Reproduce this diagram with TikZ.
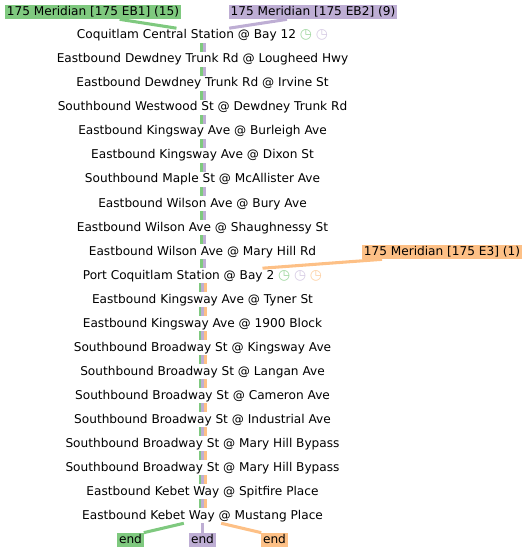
\documentclass[tikz,border=0pt]{standalone}
\usepackage{fontspec}
\setmainfont{DejaVu Sans}
\definecolor{ebone}{HTML}{7FC97F}
\definecolor{ebtwo}{HTML}{BEAED4}
\definecolor{ethree}{HTML}{FDC086}
\newcommand{\clockone}{\textcolor{ebone!75}{{\fontsize{10.4pt}{11pt}\selectfont ◷}}}
\newcommand{\clocktwo}{\textcolor{ebtwo!65}{{\fontsize{10.4pt}{11pt}\selectfont ◷}}}
\newcommand{\clockthree}{\textcolor{ethree!75}{{\fontsize{10.4pt}{11pt}\selectfont ◷}}}
\tikzset{
  stop/.style={anchor=base, inner xsep=0pt, inner ysep=0pt, text height=7.9pt, text depth=3pt},
  tag/.style={inner xsep=1.2pt, inner ysep=0pt, text height=7.6pt, text depth=3pt, text=black},
  seg/.style={line width=2pt},
  link/.style={line width=2.3pt}
}
\begin{document}
\begin{tikzpicture}[
  x=0.75pt, y=0.75pt,
  every node/.style={font=\fontsize{9.1pt}{11pt}\selectfont}
]
\useasboundingbox (0,0) rectangle (528,-552);
\foreach \i/\name in {
  0/{Coquitlam Central Station @ Bay 12 \clockone\ \clocktwo},
  1/{Eastbound Dewdney Trunk Rd @ Lougheed Hwy},
  2/{Eastbound Dewdney Trunk Rd @ Irvine St},
  3/{Southbound Westwood St @ Dewdney Trunk Rd},
  4/{Eastbound Kingsway Ave @ Burleigh Ave},
  5/{Eastbound Kingsway Ave @ Dixon St},
  6/{Southbound Maple St @ McAllister Ave},
  7/{Eastbound Wilson Ave @ Bury Ave},
  8/{Eastbound Wilson Ave @ Shaughnessy St},
  9/{Eastbound Wilson Ave @ Mary Hill Rd},
  10/{Port Coquitlam Station @ Bay 2 \clockone\ \clocktwo\ \clockthree},
  11/{Eastbound Kingsway Ave @ Tyner St},
  12/{Eastbound Kingsway Ave @ 1900 Block},
  13/{Southbound Broadway St @ Kingsway Ave},
  14/{Southbound Broadway St @ Langan Ave},
  15/{Southbound Broadway St @ Cameron Ave},
  16/{Southbound Broadway St @ Industrial Ave},
  17/{Southbound Broadway St @ Mary Hill Bypass},
  18/{Southbound Broadway St @ Mary Hill Bypass},
  19/{Eastbound Kebet Way @ Spitfire Place},
  20/{Eastbound Kebet Way @ Mustang Place}}
  \node[stop] (s\i) at (202.5,-39-24*\i) {\name};

% route labels
\node[tag, fill=ebone] (eb1) at (93,-12) {175 Meridian [175 EB1] (15)};
\node[tag, fill=ebtwo] (eb2) at (313,-12) {175 Meridian [175 EB2] (9)};
\node[tag, fill=ethree] (e3) at (442,-252) {175 Meridian [175 E3] (1)};
\node[tag, fill=ebone] (end1) at (130.5,-540) {end};
\node[tag, fill=ebtwo] (end2) at (202.5,-540) {end};
\node[tag, fill=ethree] (end3) at (274.5,-540) {end};

\draw[link, ebone] ([xshift=20pt]eb1.south) -- ([xshift=-19.5pt]s0.north);
\draw[link, ebtwo] ([xshift=-19.5pt]eb2.south) -- ([xshift=20pt]s0.north);
\draw[link, ethree] ([xshift=-45pt]e3.south) -- ([xshift=45pt]s10.north);
\draw[link, ebone] ([xshift=-14pt]s20.south) -- (end1.north east);
\draw[link, ebtwo] (s20.south) -- (end2.north);
\draw[link, ethree] ([xshift=14pt]s20.south) -- (end3.north west);

% two routes up to Port Coquitlam, three after it
\foreach \i [evaluate=\i as \j using int(\i+1)] in {0,...,9} {
  \draw[seg, ebone] ([xshift=-0.8pt]s\i.south) -- ([xshift=-0.8pt]s\j.north);
  \draw[seg, ebtwo] ([xshift=1.25pt]s\i.south) -- ([xshift=1.25pt]s\j.north);
}
\foreach \i [evaluate=\i as \j using int(\i+1)] in {10,...,19} {
  \draw[seg, ebone] ([xshift=-1.9pt]s\i.south) -- ([xshift=-1.9pt]s\j.north);
  \draw[seg, ebtwo] ([xshift=0.15pt]s\i.south) -- ([xshift=0.15pt]s\j.north);
  \draw[seg, ethree] ([xshift=2.2pt]s\i.south) -- ([xshift=2.2pt]s\j.north);
}
\end{tikzpicture}
\end{document}
